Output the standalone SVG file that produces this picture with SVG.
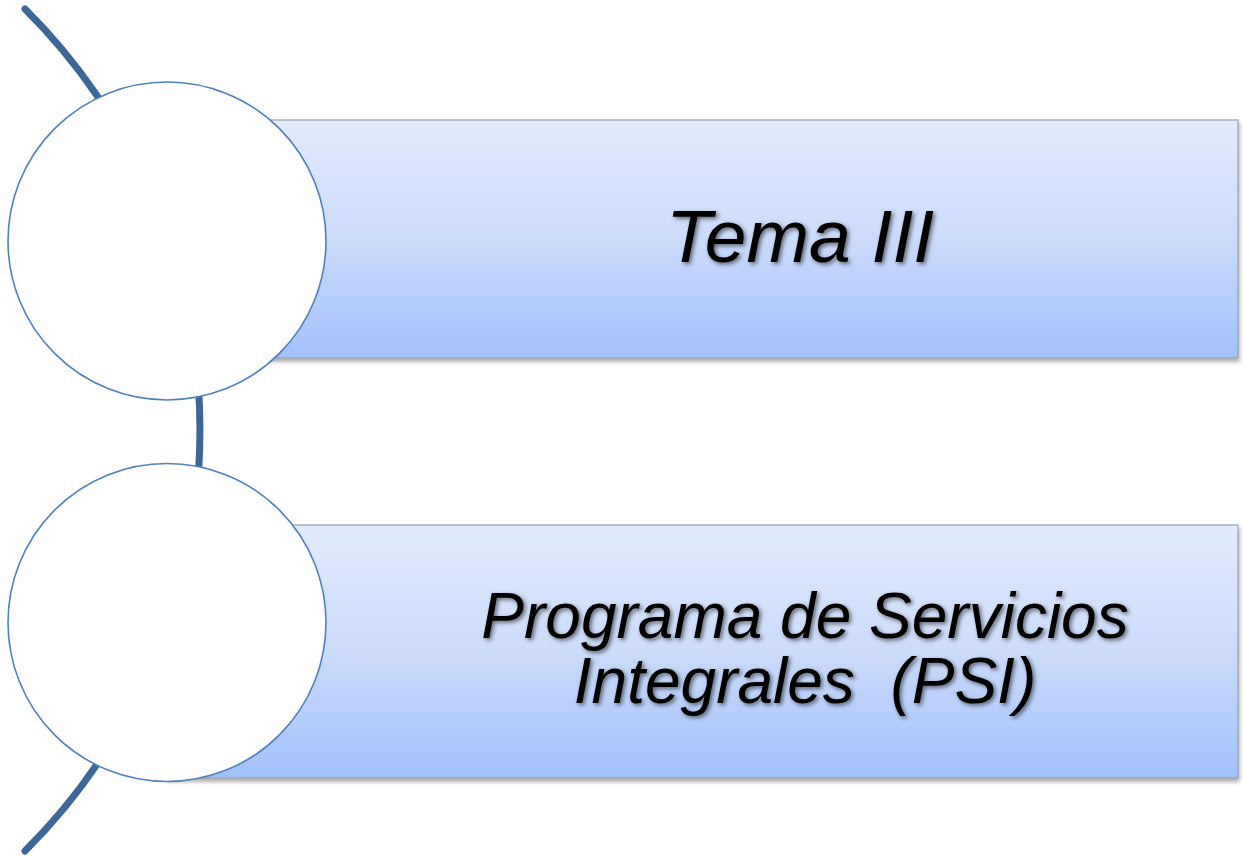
<svg xmlns="http://www.w3.org/2000/svg" width="1243" height="856" viewBox="0 0 1243 856">
<style>
.bar{fill:url(#g);stroke:#9a9ea6;stroke-width:1.2;filter:url(#rs)}
.circ{fill:#fff;stroke:#4f81bd;stroke-width:1.6}
.lbl{font-family:"Liberation Sans",Arial,sans-serif;font-style:italic;fill:#000;text-anchor:middle;filter:url(#ts);white-space:pre}
.arc{fill:none;stroke:#3d6699;stroke-width:7;stroke-linecap:round}
</style>
<defs>
<linearGradient id="g" x1="0" y1="0" x2="0" y2="1">
<stop offset="0" stop-color="#e2ebfd"/>
<stop offset="0.5" stop-color="#cbdbfb"/>
<stop offset="1" stop-color="#a2c1fb"/>
</linearGradient>
<filter id="rs" x="-5%" y="-10%" width="110%" height="125%">
<feDropShadow dx="1" dy="3" stdDeviation="2" flood-color="#000" flood-opacity="0.35"/>
</filter>
<filter id="ts" x="-10%" y="-20%" width="120%" height="150%">
<feDropShadow dx="2" dy="2" stdDeviation="2" flood-color="#000" flood-opacity="0.55"/>
</filter>
</defs>
<g id="connectors">
<path class="arc" d="M25,9 A594,594 0 0 1 25,851"/>
</g>
<g id="node1">
<rect class="bar" x="167" y="120" width="1071" height="238"/>
<circle class="circ" cx="167" cy="241" r="159"/>
<text class="lbl" x="800" y="262" font-size="75">Tema III</text>
</g>
<g id="node2">
<rect class="bar" x="167" y="525" width="1071" height="253"/>
<circle class="circ" cx="167" cy="622.5" r="159"/>
<text class="lbl" font-size="64" xml:space="preserve"><tspan x="805" y="638">Programa de Servicios</tspan><tspan x="805" y="703">Integrales  (PSI)</tspan></text>
</g>
</svg>
